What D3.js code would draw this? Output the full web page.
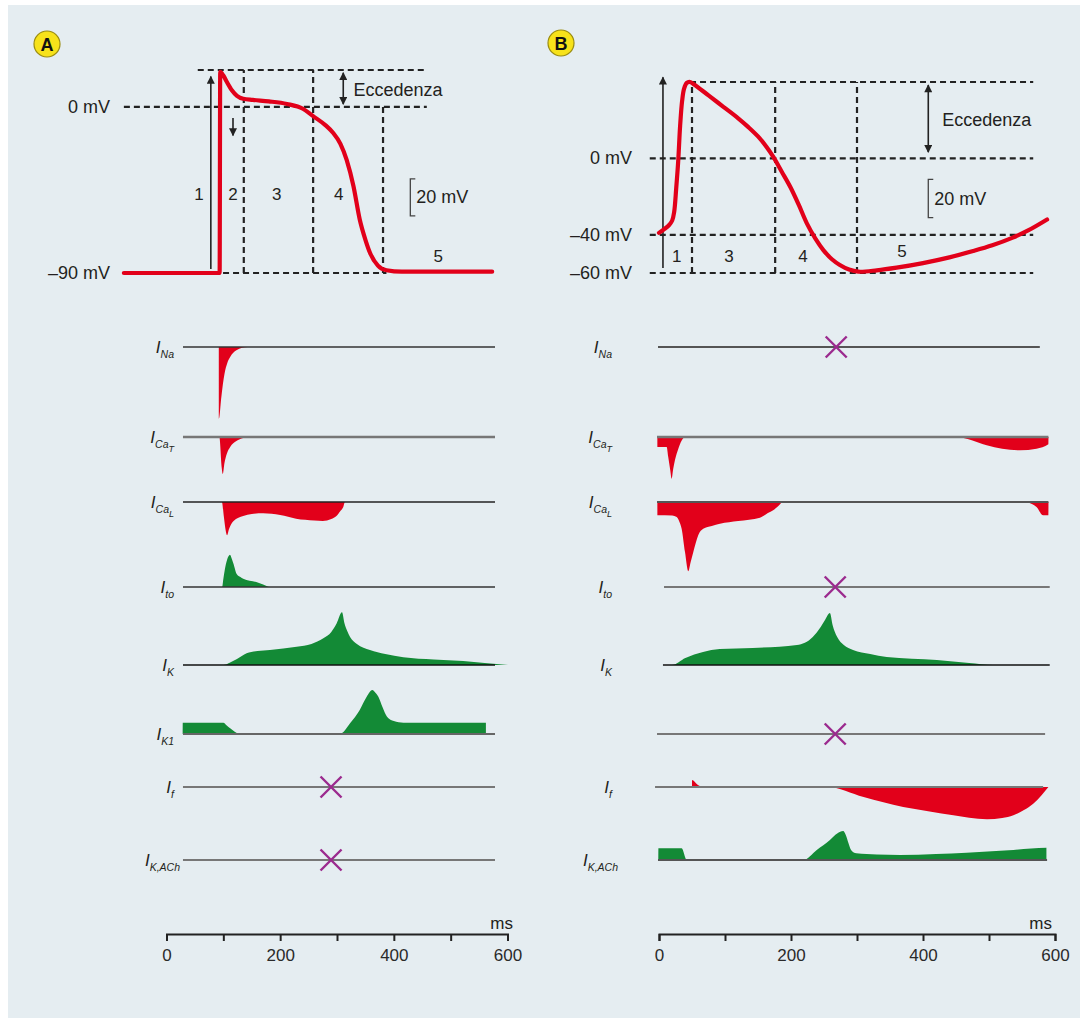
<!DOCTYPE html>
<html><head><meta charset="utf-8">
<script src="https://cdn.jsdelivr.net/npm/d3@7"></script>
<style>
html,body{margin:0;padding:0;background:#fff;}
svg{display:block;font-family:"Liberation Sans",Arial,Helvetica,sans-serif;}
</style></head><body>
<svg id="c" width="1080" height="1018"></svg>
<script>
// ================= DATA =================
const timeTicks = [0,100,200,300,400,500,600];
const timeLabels = [0,200,400,600];

// Action potentials [ms, mV]
const apA = [[-75,-90],[93.5,-90],[94.5,19],[100,17],[106,13.6],[115,9],[124,6],[135,4.4],[152,3.8],[180,3],[212,1.6],[240,-1],[258,-5],[280,-10],[293,-14],[306,-20],[317,-28.7],[329,-43],[340,-61],[350,-72],[358,-79],[372,-86],[387,-88.5],[414,-89.3],[573,-89.3]];
const apB = [[0,-39],[8,-37],[15,-35],[20,-32.5],[23,-28],[26,-16],[29,-2],[32,17],[35,30],[38,36.5],[42,39.5],[47,40],[52,39],[75,33],[97.5,27],[120,21],[135,16.5],[150,11.5],[163,6],[173,0.9],[186,-7],[199,-15],[212,-24.5],[224,-34],[237,-42],[249,-48],[262,-52.8],[274,-55.8],[288,-58.2],[302,-59.3],[330,-58.6],[360,-57.2],[400,-54.8],[440,-51.8],[476,-48.5],[505,-45.5],[536,-41.5],[560,-37.6],[588,-32]];

// Membrane potential reference levels
const levelsA = [{v:0,label:"0 mV"},{v:-90,label:"\u201390 mV"}];
const levelsB = [{v:0,label:"0 mV"},{v:-40,label:"\u201340 mV"},{v:-60,label:"\u201360 mV"}];
const hDashA = [{v:20,t0:55,t1:458},{v:0,t0:-75,t1:458},{v:-90,t0:99.5,t1:387}];
const vDashA = [{t:136,v0:-90,v1:20},{t:258,v0:-90,v1:20},{t:381,v0:-90,v1:0}];
const hDashB = [{v:40,t0:47,t1:567},{v:0,t0:-14,t1:567},{v:-40,t0:-14,t1:567},{v:-60,t0:-14,t1:567}];
const vDashB = [{t:50,v0:-60,v1:40},{t:176,v0:-60,v1:40},{t:300,v0:-60,v1:40}];
const phasesA = [{s:"1",t:57,v:-47},{s:"2",t:117,v:-47},{s:"3",t:194,v:-47},{s:"4",t:303,v:-47},{s:"5",t:478,v:-81}];
const phasesB = [{s:"1",t:27,v:-51},{s:"3",t:106,v:-51},{s:"4",t:218,v:-51},{s:"5",t:368,v:-48.5}];

// Ionic currents [ms, relative amplitude] (negative = inward)
const INa_A  = [[29,0],[92,0],[92.5,-71.7],[96.5,-50],[102,-27],[107,-16],[112,-10],[123,-3.3],[143,0],[578,0]];
const ICaT_A = [[29,0],[93,0],[97,-30],[99,-37],[102,-26],[106,-17],[112,-10],[123,-4],[135,-1],[142,0],[578,0]];
const ICaL_A = [[29,0],[97.5,0],[101,-15],[104,-28],[106.5,-33.3],[110,-27],[118,-19],[135,-14],[150,-12],[170,-11.3],[200,-13],[228,-16.7],[260,-18.5],[275,-19],[290,-17],[299,-14],[306,-9],[311,-5],[314,0],[578,0]];
const Ito_A  = [[29,0],[98,0],[100,8],[102.5,17],[106.5,27],[111.7,32.3],[115,28],[118,23],[123.5,13],[130,10],[135,8.3],[158,5],[170,2.5],[182,0],[578,0]];
const IK_A   = [[29,0],[100,0],[112,2.5],[124,6],[141,11.7],[160,14],[182,15],[229,18.3],[255,21],[276,26.7],[290,33],[299.5,41.7],[308.8,52.7],[313,42],[318,34],[323,28],[335,21],[358,15],[385,11],[416.7,7.7],[470,5.5],[522,4],[560,2],[601,0]];
const IK1_A  = [[28.5,0],[28.6,11.3],[100,11.3],[106,8.5],[112,5.7],[120,2.3],[129,0],[305,0],[323,10.7],[340,24],[352,37],[362,44],[368,41],[373,37],[380,27],[388,17.3],[400,13],[417,11.3],[562,11.3],[562.1,0],[578,0]];

const ICaT_B = [[-2.5,0],[-2.4,-10],[11.6,-10],[14,-20],[17,-33],[19.2,-41.7],[21.5,-32],[24.2,-23],[29.3,-11.7],[34,-4],[39.4,0],[451,0],[475,-3.5],[496.5,-8.3],[520,-11.7],[547,-13.3],[572,-11.7],[590,-7.3],[590.1,0]];
const ICaL_B = [[-2.5,0],[-2.4,-13.3],[20,-13.5],[26.8,-15],[31,-20],[34.3,-26.7],[39.4,-50],[44.4,-69.3],[48,-60],[52,-50],[59.6,-33],[67,-26.7],[80,-24],[92.4,-21.7],[120,-19],[153,-15.7],[165,-11],[173,-8.3],[180,-4.5],[188,0],[554.5,0],[565,-2],[572,-5],[582,-13.3],[590,-13.3],[590.1,0]];
const IK_B   = [[6,0],[19.7,0],[40,7],[66.7,13],[92,16],[142,17],[209,20],[233,28],[245,38],[251.5,45],[259,52],[263,40],[270,28],[280,20],[294,15],[320,11],[345,8],[421,5],[470,2],[506,0],[592,0]];
const If_B   = [[-6,0],[50,0],[50.1,7],[58,2.5],[67,0],[254.5,0],[310,-10],[370,-20],[410,-24.5],[446,-28.3],[470,-30.8],[497,-32.3],[520,-31],[537,-28.3],[553,-23],[567,-16.7],[580,-8],[590,0]];
const IKACh_B= [[-1,0],[-0.9,11.7],[34.3,11.7],[42,0],[218.7,0],[239,10],[259,20],[270,26.5],[279,29],[283,25],[287,17],[291,10],[299,6.7],[330,5.5],[365,5],[420,6],[466,7.3],[530,9.8],[587,12.3],[587.1,0]];

// Row labels (I with subscript)
const rowSubs = [["Na"],["Ca","T"],["Ca","L"],["to"],["K"],["K1"],["f"],["K,ACh"]];
const rowSubsB = [["Na"],["Ca","T"],["Ca","L"],["to"],["K"],null,["f"],["K,ACh"]];
const curvesA = [INa_A, ICaT_A, ICaL_A, Ito_A, IK_A, IK1_A, null, null];
const curvesB = [null, ICaT_B, ICaL_B, null, IK_B, null, If_B, IKACh_B];
const blockedA = [{row:6,t:289.5},{row:7,t:289.5}];
const blockedB = [{row:0,t:268.5},{row:3,t:267},{row:5,t:267}];
const extentA = [[29,578],[29,578],[29,578],[29,578],[29,578],[29,578],[29,578],[29,578]];
const extentB = [[-1.5,577],[-3,590],[-3,590],[7.6,592],[6,592],[-3,585],[-6,582],[-1.5,588]];

// ================= DRAW =================
const svg = d3.select("#c");
const RED = "#e2001a", GREEN = "#138a36", PURPLE = "#9b2a8e", INK = "#231f20";
svg.append("rect").attr("x",8).attr("y",5).attr("width",1072).attr("height",1013).attr("fill","#e5edf1");

const defs = svg.append("defs");
defs.append("marker").attr("id","ah").attr("viewBox","0 0 10 10").attr("refX",9).attr("refY",5)
  .attr("markerWidth",9).attr("markerHeight",8).attr("markerUnits","userSpaceOnUse").attr("orient","auto-start-reverse")
  .append("path").attr("d","M0,0L10,5L0,10z").attr("fill","#222");

const xA = d3.scaleLinear().domain([0,600]).range([166.5,507.5]);
const xB = d3.scaleLinear().domain([0,600]).range([659,1055]);
const yA = d3.scaleLinear().domain([-90,20]).range([273,70]);
const yB = d3.scaleLinear().domain([-60,40]).range([273,82]);
const amp = d3.scaleLinear().domain([0,100]).range([0,100]);
const rowY = [347,437,502,587,665,734,787,860];

function badge(cx,cy,letter){
  svg.append("circle").attr("cx",cx).attr("cy",cy).attr("r",13).attr("fill","#f7e21a").attr("stroke","#9a8c10").attr("stroke-width",1.2);
  svg.append("text").attr("x",cx).attr("y",cy+6.5).attr("text-anchor","middle").attr("font-size",18).attr("font-weight","bold").attr("fill","#111").text(letter);
}
badge(47,44,"A"); badge(561,43,"B");

function apPanel(x,y,ap,levels,hD,vD,phases,labelX,opt){
  const g = svg.append("g");
  hD.forEach(d=>g.append("line").attr("x1",x(d.t0)).attr("x2",x(d.t1)).attr("y1",y(d.v)).attr("y2",y(d.v))
    .attr("stroke","#222").attr("stroke-width",2.2).attr("stroke-dasharray","6,4"));
  vD.forEach(d=>g.append("line").attr("x1",x(d.t)).attr("x2",x(d.t)).attr("y1",y(d.v0)).attr("y2",y(d.v1))
    .attr("stroke","#222").attr("stroke-width",2.2).attr("stroke-dasharray","6,4"));
  levels.forEach(d=>g.append("text").attr("x",labelX).attr("y",y(d.v)+6).attr("text-anchor","end")
    .attr("font-size",18).attr("fill",INK).text(d.label));
  phases.forEach(d=>g.append("text").attr("x",x(d.t)).attr("y",y(d.v)+6).attr("text-anchor","middle")
    .attr("font-size",17).attr("fill",INK).text(d.s));
  opt.arrows.forEach(a=>{
    const l = g.append("line").attr("x1",x(a.t)).attr("x2",x(a.t)).attr("y1",y(a.v0)).attr("y2",y(a.v1))
      .attr("stroke","#222").attr("stroke-width",a.w||1.6).attr("marker-end","url(#ah)");
    if(a.both) l.attr("marker-start","url(#ah)");
  });
  const sb = opt.bar;
  g.append("path").attr("d",`M${x(sb.t)+5},${y(sb.v0)}H${x(sb.t)}V${y(sb.v0-20)}H${x(sb.t)+5}`)
    .attr("fill","none").attr("stroke","#444").attr("stroke-width",1.3);
  g.append("text").attr("x",x(sb.t)+6).attr("y",y(sb.v0-10)+6).attr("font-size",18).attr("fill",INK).text("20 mV");
  g.append("text").attr("x",x(opt.ecc.t)).attr("y",y(opt.ecc.v)+6).attr("font-size",18).attr("fill",INK).text("Eccedenza");
  g.append("path").datum(ap).attr("fill","none").attr("stroke",RED).attr("stroke-width",4.2)
    .attr("stroke-linejoin","round").attr("stroke-linecap","round")
    .attr("d",d3.line().x(d=>x(d[0])).y(d=>y(d[1])).curve(opt.curve));
}

apPanel(xA,yA,apA,levelsA,hDashA,vDashA,phasesA,110,{
  arrows:[{t:78,v0:-87.8,v1:16.5},{t:117,v0:-6,v1:-15.5},{t:311,v0:18.5,v1:1.5,both:true}],
  bar:{t:429,v0:-39}, ecc:{t:329,v:9.2}, curve:d3.curveMonotoneX});
apPanel(xB,yB,apB,levelsB,hDashB,vDashB,phasesB,632,{
  arrows:[{t:6,v0:-57.4,v1:42.5},{t:408,v0:38.4,v1:3.3,both:true}],
  bar:{t:408,v0:-11}, ecc:{t:429,v:20}, curve:d3.curveCatmullRom.alpha(0.5)});

function currents(x,curves,subs,blocked,extents,labelX,lineStyles){
  const g = svg.append("g");
  rowY.forEach((by,i)=>{
    const c = curves[i];
    if(c){
      const area = d3.area().x(d=>x(d[0])).y0(by).y1(d=>by-amp(d[1])).curve(d3.curveMonotoneX);
      const neg = c.some(d=>d[1]<0), pos = c.some(d=>d[1]>0);
      if(neg){
        g.append("path").datum(c.map(d=>[d[0],Math.min(d[1],0)])).attr("fill",RED).attr("d",area);
      }
      if(pos){
        g.append("path").datum(c.map(d=>[d[0],Math.max(d[1],0)])).attr("fill", neg?RED:GREEN).attr("d",area);
      }
    }
    const st = lineStyles[i];
    g.append("line").attr("x1",x(extents[i][0])).attr("x2",x(extents[i][1])).attr("y1",by).attr("y2",by)
      .attr("stroke",st[0]).attr("stroke-width",st[1]);
    const s = subs[i];
    if(s){
      const t = g.append("text").attr("x",labelX + (s[0]==="K,ACh"?6:0)).attr("y",by+5.5).attr("text-anchor","end")
        .attr("font-style","italic").attr("fill",INK);
      t.append("tspan").attr("font-size",17).text("I");
      t.append("tspan").attr("font-size",10.5).attr("dy",5).text(s[0]);
      if(s[1]) t.append("tspan").attr("font-size",9).attr("dy",4).text(s[1]);
    }
  });
  blocked.forEach(b=>{
    const cx = x(b.t), cy = rowY[b.row], r = 10.5;
    g.append("path").attr("d",`M${cx-r},${cy-r}L${cx+r},${cy+r}M${cx-r},${cy+r}L${cx+r},${cy-r}`)
      .attr("stroke",PURPLE).attr("stroke-width",2.4).attr("fill","none");
  });
}
currents(xA,curvesA,rowSubs,blockedA,extentA,174,
  [["#333",1.5],["#777",2.5],["#222",1.5],["#333",1.5],["#111",1.5],["#666",2],["#777",2],["#777",2]]);
currents(xB,curvesB,rowSubsB,blockedB,extentB,612,
  [["#555",2],["#777",2.5],["#555",2],["#777",2],["#111",1.5],["#777",2],["#777",2],["#555",2]]);

function axis(x,msX){
  const g = svg.append("g").attr("transform","translate(0,934)")
    .call(d3.axisBottom(x).tickValues(timeTicks).tickSize(7).tickSizeOuter(7).tickPadding(8)
      .tickFormat(d=>timeLabels.includes(d)?d:""));
  g.select(".domain").attr("stroke","#222").attr("stroke-width",2);
  g.selectAll(".tick line").attr("stroke","#222").attr("stroke-width",2);
  g.selectAll(".tick text").attr("font-size",17).attr("fill","#2a2a2a").attr("font-family","Liberation Sans, Arial, sans-serif");
  svg.append("text").attr("x",msX).attr("y",929).attr("text-anchor","end").attr("font-size",17).attr("fill",INK).text("ms");
}
axis(xA,513); axis(xB,1052);
</script>
</body></html>
